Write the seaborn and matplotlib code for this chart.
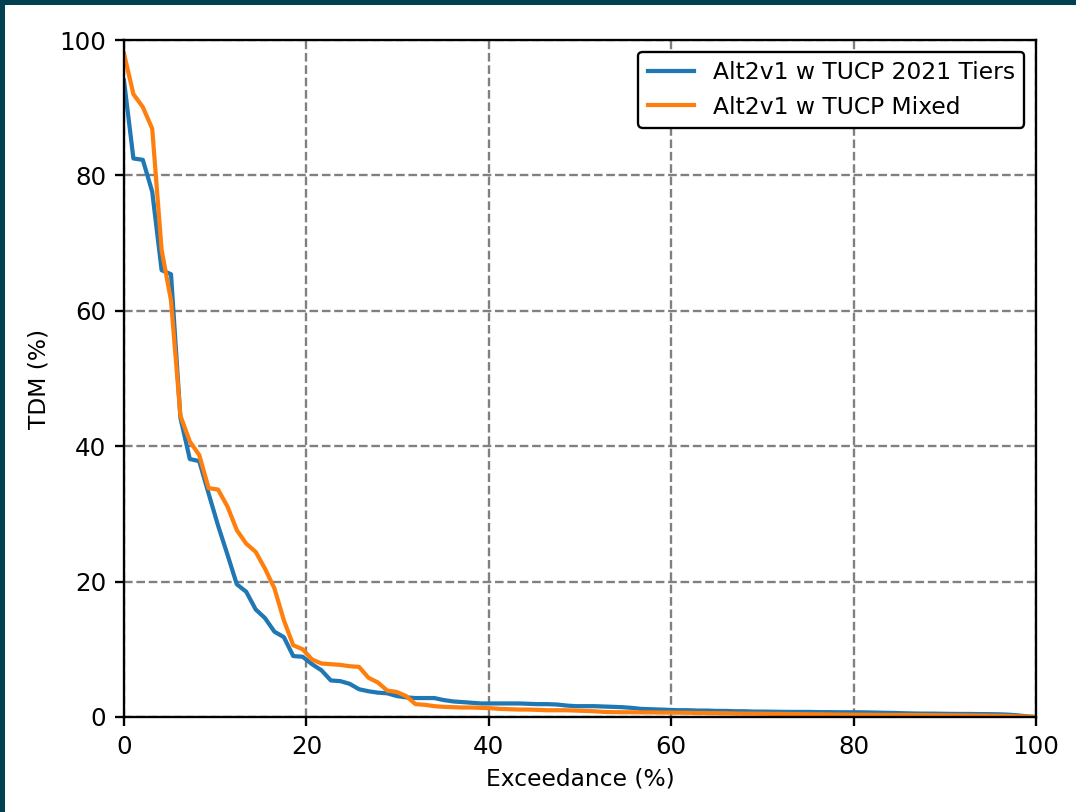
import numpy as np
import pandas as pd
import matplotlib
matplotlib.use("Agg")
import matplotlib.pyplot as plt
from matplotlib.patches import Rectangle
import seaborn as sns

series_names = ["Alt2v1 w TUCP 2021 Tiers", "Alt2v1 w TUCP Mixed"]

tdm_tiers = [
    94.0, 82.5, 82.3, 77.6, 66.0, 65.4, 44.2, 38.1, 37.8, 33.0,
    28.3, 24.0, 19.6, 18.5, 15.9, 14.6, 12.6, 11.8, 9.0, 8.9,
    7.8, 6.9, 5.4, 5.3, 4.9, 4.1, 3.8, 3.6, 3.5, 3.1,
    2.9, 2.8, 2.8, 2.8, 2.5, 2.3, 2.2, 2.1, 2.0, 2.0,
    2.0, 2.0, 2.0, 1.95, 1.9, 1.9, 1.85, 1.7, 1.6, 1.6,
    1.6, 1.55, 1.5, 1.45, 1.35, 1.2, 1.15, 1.1, 1.05, 1.0,
    1.0, 0.95, 0.95, 0.9, 0.9, 0.85, 0.85, 0.8, 0.8, 0.78,
    0.76, 0.75, 0.75, 0.75, 0.72, 0.72, 0.7, 0.7, 0.7, 0.68,
    0.65, 0.62, 0.6, 0.55, 0.52, 0.5, 0.5, 0.48, 0.46, 0.45,
    0.45, 0.43, 0.42, 0.4, 0.35, 0.25, 0.1, 0.0,
]

tdm_mixed = [
    98.0, 92.0, 90.1, 86.9, 69.0, 61.5, 44.5, 40.7, 38.7, 33.8,
    33.6, 31.1, 27.6, 25.6, 24.4, 21.9, 19.0, 14.3, 10.6, 10.0,
    8.5, 7.9, 7.8, 7.7, 7.5, 7.4, 5.8, 5.1, 3.9, 3.7,
    3.1, 1.9, 1.8, 1.6, 1.5, 1.45, 1.4, 1.4, 1.35, 1.3,
    1.2, 1.15, 1.1, 1.1, 1.05, 1.0, 1.0, 1.0, 0.95, 0.9,
    0.85, 0.75, 0.72, 0.7, 0.7, 0.68, 0.68, 0.66, 0.65, 0.64,
    0.62, 0.6, 0.58, 0.56, 0.55, 0.52, 0.5, 0.5, 0.48, 0.46,
    0.45, 0.44, 0.42, 0.4, 0.4, 0.38, 0.36, 0.35, 0.34, 0.33,
    0.32, 0.31, 0.3, 0.3, 0.29, 0.28, 0.27, 0.26, 0.25, 0.24,
    0.23, 0.22, 0.2, 0.18, 0.15, 0.1, 0.05, 0.0,
]

x_ticks = [0, 20, 40, 60, 80, 100]
y_ticks = [0, 20, 40, 60, 80, 100]


def exceedance(values):
    n = len(values)
    return [100.0 * i / (n - 1) for i in range(n)]


frames = []
for name, vals in zip(series_names, [tdm_tiers, tdm_mixed]):
    frames.append(pd.DataFrame({"Exceedance": exceedance(vals), "TDM": vals, "Series": name}))
df = pd.concat(frames, ignore_index=True)

DPI = 168
fig = plt.figure(figsize=(1076 / DPI, 812 / DPI), dpi=DPI)
fig.patch.set_facecolor("white")
W, H = 1076, 812
ax = fig.add_axes([124 / W, 1 - 717 / H, (1036 - 124) / W, (717 - 40) / H])

sns.lineplot(data=df, x="Exceedance", y="TDM", hue="Series",
             palette=["#1f77b4", "#ff7f0e"], linewidth=1.8, ax=ax,
             estimator=None, sort=False)

ax.set_xlim(0, 100)
ax.set_ylim(0, 100)
ax.set_xticks(x_ticks)
ax.set_yticks(y_ticks)
ax.tick_params(labelsize=10.5, width=1.0, length=4)
ax.set_xlabel("Exceedance (%)")
ax.set_ylabel("TDM (%)")
ax.grid(True, linestyle="--", color="#808080", linewidth=1.0)
ax.set_axisbelow(True)
for s in ax.spines.values():
    s.set_linewidth(1.0)

leg = ax.legend(loc="upper right", fontsize=10, framealpha=1, edgecolor="black", fancybox=True)
leg.get_frame().set_linewidth(1.0)
for line in leg.get_lines():
    line.set_linewidth(1.8)

# dark teal border (top and left)
fig.patches.append(Rectangle((0, 1 - 5 / H), 1, 5 / H, transform=fig.transFigure,
                             facecolor="#02404f", edgecolor="none", zorder=10))
fig.patches.append(Rectangle((0, 0), 5 / W, 1, transform=fig.transFigure,
                             facecolor="#02404f", edgecolor="none", zorder=10))

fig.savefig("out.png", dpi=DPI)
